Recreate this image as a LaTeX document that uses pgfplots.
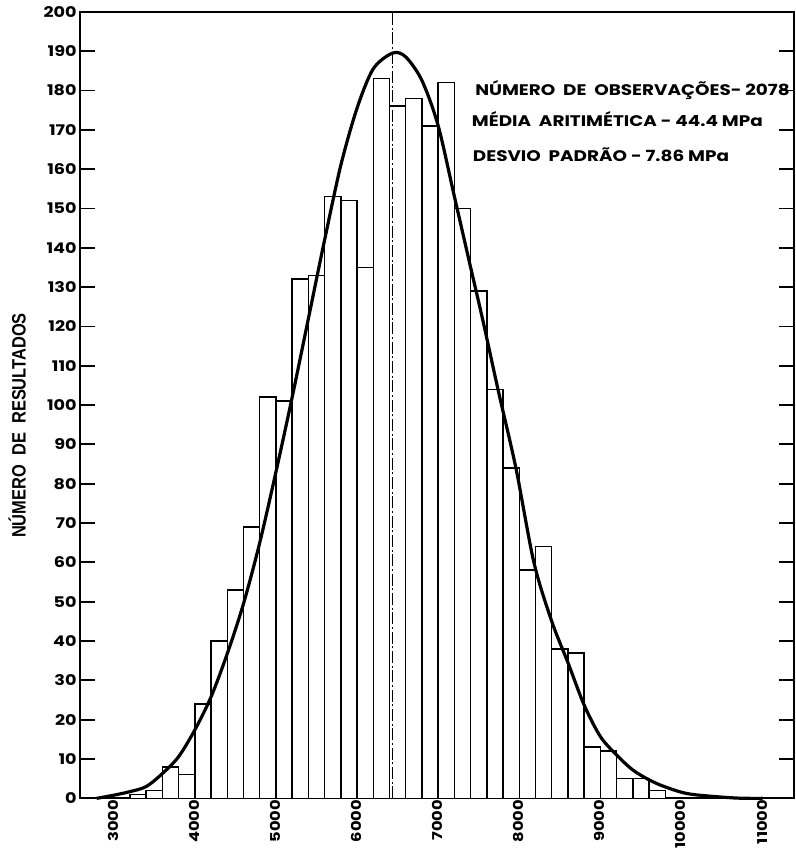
\documentclass[border=0pt]{standalone}
\usepackage{fontspec}
\usepackage{pgfplots}
\pgfplotsset{compat=1.18}
\newfontfamily\lf[FakeStretch=1.2]{Poppins}
\newfontfamily\yf[FakeStretch=0.85]{Liberation Sans}
\pgfplotstableread{
x y
3200 1
3400 2
3600 8
3800 6
4000 24
4200 40
4400 53
4600 69
4800 102
5000 101
5200 132
5400 133
5600 153
5800 152
6000 135
6200 183
6400 176
6600 178
6800 171
7000 182
7200 150
7400 129
7600 104
7800 84
8000 58
8200 64
8400 38
8600 37
8800 13
9000 12
9200 5
9400 5
9600 2
9800 0
}\bars
\begin{document}
\begin{tikzpicture}
\begin{axis}[
  name=ax,
  scale only axis,
  width=535.5pt, height=590pt,
  xmin=2584, xmax=11386, ymin=0, ymax=200,
  scaled x ticks=false,
  scaled y ticks=false,
  axis line style={line width=1.4pt},
  xtick={3000,4000,...,11000},
  xticklabels={3000,4000,5000,6000,7000,8000,9000,10000,11000},
  xtick style={draw=none},
  ytick={0,10,...,200},
  ytick pos=both,
  yticklabel pos=left,
  tick align=inside,
  major tick length=11pt,
  ytick style={line width=1.3pt, black},
  /pgf/number format/assume math mode=true,
  tick label style={font=\lf\bfseries\fontsize{11}{11}\selectfont},
  xticklabel style={rotate=90, anchor=east, yshift=0.5pt, inner sep=1pt, font=\lf\bfseries\fontsize{10.2}{10.2}\selectfont},
  yticklabel style={xshift=1pt},
  ylabel={\yf\bfseries NÚMERO\ \ DE\ \ RESULTADOS},
  ylabel style={at={(axis description cs:-0.088,0.474)}, anchor=center, font=\fontsize{14.5}{14.5}\selectfont},
  clip=false,
]
\addplot[ybar interval, fill=white, draw=black, line width=1.1pt] table[x=x,y=y] {\bars};
\addplot[black, line width=0.8pt, dash pattern=on 9pt off 2pt on 1.5pt off 2pt] coordinates {(6440,0) (6440,200)};
\addplot[black, line width=2.4pt, smooth] coordinates {
(2790,0) (3000,0.8) (3200,1.7) (3400,3.0) (3600,6.3) (3800,10.6) (4000,17.4)
(4200,25.8) (4400,36.8) (4600,49.5) (4800,65) (5000,83) (5200,102) (5400,122)
(5600,142) (5800,161) (6000,175.5) (6200,185.5) (6440,189.5) (6600,188.5)
(6800,182.5) (7000,171) (7200,153) (7400,135) (7550,121.6) (7737,104)
(7958,84) (8180,60) (8400,45) (8600,34.5) (8800,23.7) (9000,15.7) (9200,11)
(9400,7.2) (9600,4.7) (9800,2.9) (10100,1.1) (10650,0.1) (11000,0)
};
\node[anchor=base west, inner sep=0pt, font=\lf\bfseries\fontsize{11.5}{11.5}\selectfont] at (axis cs:7454,178.7) {NÚMERO\ \ DE\ \ OBSERVAÇÕES-\ 2078};
\node[anchor=base west, inner sep=0pt, font=\lf\bfseries\fontsize{11.5}{11.5}\selectfont] at (axis cs:7413,170.7) {MÉDIA\ \ ARITIMÉTICA\ -\ 44.4\ MPa};
\node[anchor=base west, inner sep=0pt, font=\lf\bfseries\fontsize{11.5}{11.5}\selectfont] at (axis cs:7425,161.8) {DESVIO\ \ PADRÃO\ -\ 7.86\ MPa};
\end{axis}
\pgfresetboundingbox
\path[use as bounding box] ([xshift=-60pt,yshift=-47pt]ax.south west) rectangle ([xshift=1.5pt,yshift=8.8pt]ax.north east);
\end{tikzpicture}
\end{document}
